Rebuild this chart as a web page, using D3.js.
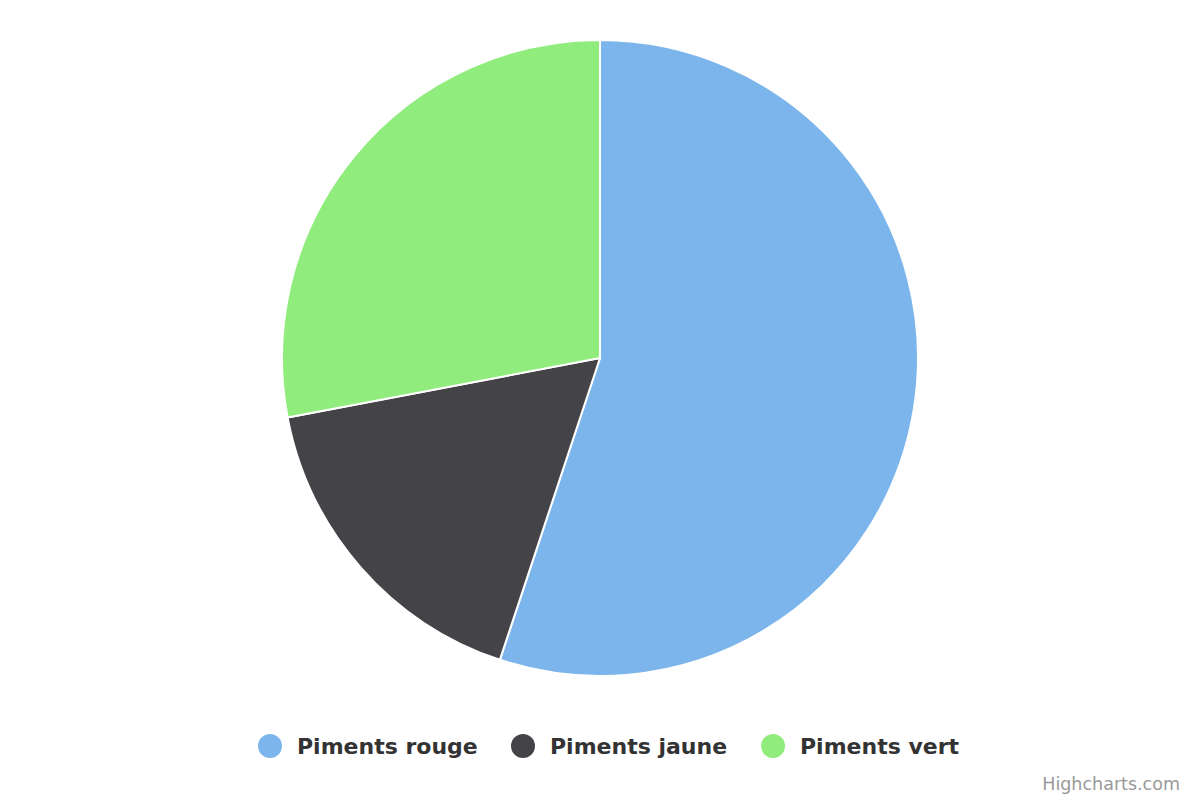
<!DOCTYPE html>
<html>
<head>
<meta charset="utf-8">
<script src="https://cdn.jsdelivr.net/npm/d3@7"></script>
<style>
  body { margin: 0; background: #fff; }
  svg { font-family: "DejaVu Sans", sans-serif; }
</style>
</head>
<body>
<svg id="chart" width="1200" height="800"></svg>
<script>
const categories = ["Piments rouge", "Piments jaune", "Piments vert"];
const values = [55.1, 16.9, 28.0];
const colors = ["#7cb5ec", "#434348", "#90ed7d"];

const width = 1200;
const height = 800;
const cx = 600, cy = 358, radius = 318;

let svg = d3.select("#chart");

let pie = d3.pie().sort(null).value(function(d) { return d; });
let arc = d3.arc().innerRadius(0).outerRadius(radius);

let g = svg.append("g").attr("transform", `translate(${cx},${cy})`);

g.selectAll("path")
  .data(pie(values))
  .enter()
  .append("path")
  .attr("d", arc)
  .attr("fill", function(d, i) { return colors[i]; })
  .attr("stroke", "#ffffff")
  .attr("stroke-width", 2)
  .attr("stroke-linejoin", "round");

// legend
let legendX = [270, 523, 773];
let legend = svg.append("g");
let items = legend.selectAll("g")
  .data(categories)
  .enter()
  .append("g")
  .attr("transform", function(d, i) { return `translate(${legendX[i]},746)`; });

items.append("circle")
  .attr("r", 12)
  .attr("fill", function(d, i) { return colors[i]; });

items.append("text")
  .attr("x", 27)
  .attr("y", 8)
  .attr("fill", "#333333")
  .attr("font-size", 22)
  .attr("font-weight", "bold")
  .text(function(d) { return d; });

svg.append("text")
  .attr("x", 1180)
  .attr("y", 790)
  .attr("text-anchor", "end")
  .attr("fill", "#999999")
  .attr("font-size", 17.5)
  .text("Highcharts.com");
</script>
</body>
</html>
